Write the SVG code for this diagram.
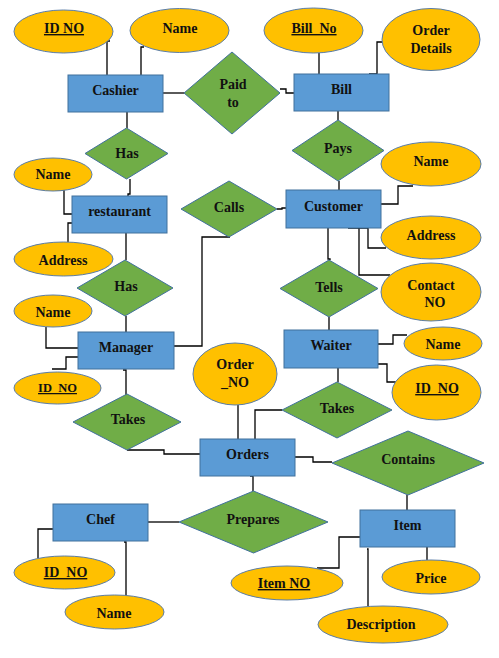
<svg xmlns="http://www.w3.org/2000/svg" width="499" height="658" viewBox="0 0 499 658">
<style>
.e{fill:#5B9BD5;stroke:#41719C;stroke-width:1}
.a{fill:#FFC000;stroke:#5A7DA8;stroke-width:1}
.r{fill:#70AD47;stroke:#41719C;stroke-width:1}
text{font-family:"Liberation Serif","Times New Roman",serif;font-weight:bold;font-size:14px;fill:#111;text-anchor:middle}
.u{text-decoration:underline}
#conn polyline,#conn line{fill:none;stroke:#000;stroke-width:1.3}
</style>
<rect width="499" height="658" fill="#fff"/>
<g id="conn">
<polyline points="110,41 107,41 107,75"/>
<polyline points="144,47 141,47 141,75"/>
<line x1="163" y1="93" x2="184" y2="93"/>
<polyline points="280,89 286,89 286,93 294,93"/>
<line x1="319" y1="53" x2="319" y2="74"/>
<polyline points="382,42 377,42 377,74 369,74"/>
<line x1="127" y1="112" x2="127" y2="128"/>
<polyline points="130,179 130,194 128,194 128,196"/>
<polyline points="55,190 64,190 64,214 72,214"/>
<polyline points="72,223 68,223 68,242"/>
<line x1="126" y1="233" x2="126" y2="260"/>
<line x1="126" y1="316" x2="126" y2="332"/>
<polyline points="230,237 202,237 202,346 174,346"/>
<polyline points="277,209 282,209 282,208 286,208"/>
<line x1="338" y1="111" x2="338" y2="120"/>
<line x1="339" y1="181" x2="339" y2="190"/>
<polyline points="413,186 398,186 398,204 381,204"/>
<polyline points="348,228 368,228 368,248 386,248"/>
<polyline points="359,228 359,275 390,275"/>
<polyline points="328,228 328,259 330,259 330,260"/>
<line x1="329" y1="317" x2="329" y2="330"/>
<polyline points="378,344 393,344 393,335 407,335"/>
<polyline points="378,364 387,364 387,382 396,382"/>
<line x1="338" y1="368" x2="338" y2="382"/>
<polyline points="282,410 255,410 255,439"/>
<line x1="238" y1="405" x2="238" y2="439"/>
<polyline points="123,370 126,370 126,395"/>
<polyline points="46,327 46,348 78,348"/>
<polyline points="78,357 66,357 66,369 52,369"/>
<polyline points="127,450 164,450 164,454 200,454"/>
<polyline points="295,457 313,457 313,462 332,462"/>
<polyline points="250,476 253,476 253,491"/>
<line x1="407" y1="495" x2="407" y2="510"/>
<line x1="148" y1="522" x2="179" y2="522"/>
<polyline points="53,529 38,529 38,558"/>
<polyline points="124,542 126,542 126,596"/>
<polyline points="360,537 339,537 339,568 317,568"/>
<polyline points="367,549 368,549 368,606"/>
<line x1="427" y1="547" x2="427" y2="560"/>
</g>
<g id="cashier"><rect class="e" x="68" y="75" width="95" height="37"/><text x="115.5" y="95">Cashier</text></g>
<g id="bill"><rect class="e" x="294" y="74" width="95" height="37"/><text x="341.5" y="94">Bill</text></g>
<g id="restaurant"><rect class="e" x="72" y="196" width="95" height="37"/><text x="119.5" y="216">restaurant</text></g>
<g id="customer"><rect class="e" x="286" y="190" width="95" height="38"/><text x="333.5" y="211">Customer</text></g>
<g id="manager"><rect class="e" x="78" y="332" width="96" height="37"/><text x="126" y="352">Manager</text></g>
<g id="waiter"><rect class="e" x="284" y="330" width="94" height="38"/><text x="331" y="350">Waiter</text></g>
<g id="orders"><rect class="e" x="200" y="439" width="95" height="37"/><text x="247.5" y="459">Orders</text></g>
<g id="chef"><rect class="e" x="53" y="504" width="95" height="37"/><text x="100.5" y="524">Chef</text></g>
<g id="item"><rect class="e" x="360" y="510" width="95" height="37"/><text x="407.5" y="530">Item</text></g>
<g id="cashier-id"><ellipse class="a" cx="63.5" cy="31.5" rx="49.5" ry="21.5"/><text class="u" x="64" y="33">ID NO</text></g>
<g id="cashier-name"><ellipse class="a" cx="179.5" cy="30.5" rx="49.5" ry="22"/><text x="180" y="33">Name</text></g>
<g id="bill-no"><ellipse class="a" cx="313.5" cy="30.5" rx="49.5" ry="22.5"/><text class="u" x="314" y="33">Bill&#160;&#160;No</text></g>
<g id="order-details"><ellipse class="a" cx="431" cy="39.5" rx="49" ry="31"/><text x="431" y="35">Order</text><text x="431" y="53">Details</text></g>
<g id="rest-name"><ellipse class="a" cx="53" cy="174.5" rx="39" ry="16.5"/><text x="53" y="179">Name</text></g>
<g id="rest-address"><ellipse class="a" cx="63.5" cy="259" rx="49.5" ry="17"/><text x="63" y="265">Address</text></g>
<g id="cust-name"><ellipse class="a" cx="431" cy="164" rx="50" ry="22"/><text x="431" y="166">Name</text></g>
<g id="cust-address"><ellipse class="a" cx="431" cy="237.5" rx="50" ry="21.5"/><text x="431" y="240">Address</text></g>
<g id="cust-contact"><ellipse class="a" cx="431" cy="292" rx="50" ry="29"/><text x="431" y="290">Contact</text><text x="435" y="307">NO</text></g>
<g id="mgr-name"><ellipse class="a" cx="53" cy="311" rx="39" ry="16"/><text x="53" y="317">Name</text></g>
<g id="mgr-id"><ellipse class="a" cx="57.5" cy="388" rx="43.5" ry="16"/><text class="u" x="57.5" y="392" style="font-size:12.5px">ID&#160;&#160;NO</text></g>
<g id="order-no"><ellipse class="a" cx="235" cy="374" rx="42" ry="31"/><text x="235" y="369">Order</text><text x="235" y="387">_NO</text></g>
<g id="waiter-name"><ellipse class="a" cx="443" cy="343.5" rx="39" ry="16.5"/><text x="443" y="349">Name</text></g>
<g id="waiter-id"><ellipse class="a" cx="436.5" cy="392.5" rx="44.5" ry="27.5"/><text class="u" x="437" y="393">ID&#160;&#160;NO</text></g>
<g id="chef-id"><ellipse class="a" cx="64.5" cy="572.5" rx="50.5" ry="16.5"/><text class="u" x="65.5" y="577">ID&#160;&#160;NO</text></g>
<g id="chef-name"><ellipse class="a" cx="114.5" cy="612" rx="49.5" ry="17"/><text x="114" y="618">Name</text></g>
<g id="item-no"><ellipse class="a" cx="287" cy="583" rx="56" ry="17"/><text class="u" x="284" y="588">Item NO</text></g>
<g id="item-price"><ellipse class="a" cx="431" cy="577" rx="49" ry="17"/><text x="431" y="583">Price</text></g>
<g id="item-desc"><ellipse class="a" cx="383" cy="624.5" rx="65" ry="18.5"/><text x="381" y="629">Description</text></g>
<g id="paid-to"><polygon class="r" points="232,52 280,93 232,134 184,93"/><text x="233" y="89">Paid</text><text x="233" y="107">to</text></g>
<g id="has1"><polygon class="r" points="126.5,128 168,153.5 126.5,179 85,153.5"/><text x="127" y="158">Has</text></g>
<g id="pays"><polygon class="r" points="338,120 384,150.5 338,181 292,150.5"/><text x="338" y="153">Pays</text></g>
<g id="calls"><polygon class="r" points="229,181 277,209 229,237 181,209"/><text x="229" y="212">Calls</text></g>
<g id="has2"><polygon class="r" points="125,260 173,288 125,316 77,288"/><text x="126" y="291">Has</text></g>
<g id="tells"><polygon class="r" points="329,260 378,288.5 329,317 280,288.5"/><text x="329" y="292">Tells</text></g>
<g id="takes1"><polygon class="r" points="127,394 181,422 127,450 73,422"/><text x="128" y="424">Takes</text></g>
<g id="takes2"><polygon class="r" points="337,382 392,410 337,438 282,410"/><text x="337" y="413">Takes</text></g>
<g id="contains"><polygon class="r" points="408,431 484,463 408,495 332,463"/><text x="408" y="464">Contains</text></g>
<g id="prepares"><polygon class="r" points="253.5,491 328,522 253.5,553 179,522"/><text x="253" y="524">Prepares</text></g>
</svg>
